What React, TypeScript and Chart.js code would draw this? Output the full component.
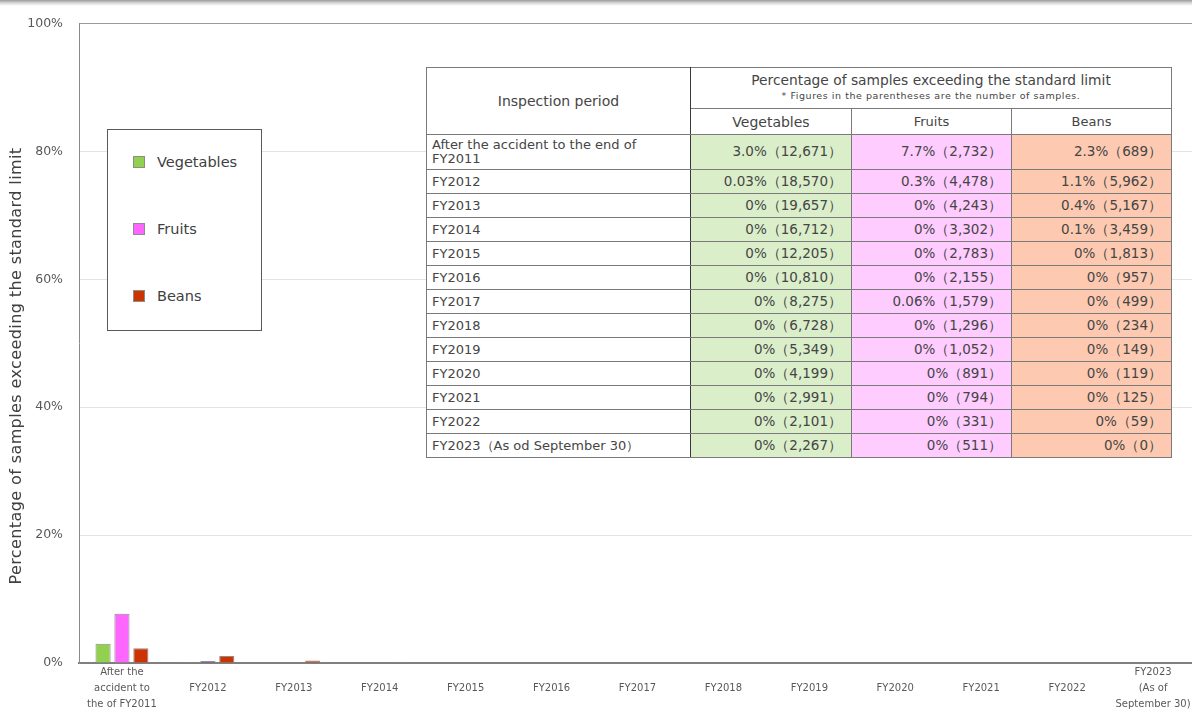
import React, { useEffect, useRef } from "react";
import { Chart, registerables } from "chart.js";

Chart.register(...registerables);

const categories: (string | string[])[] = [
  ["After the", "accident to", "the of FY2011"],
  "FY2012",
  "FY2013",
  "FY2014",
  "FY2015",
  "FY2016",
  "FY2017",
  "FY2018",
  "FY2019",
  "FY2020",
  "FY2021",
  "FY2022",
  ["FY2023", "(As of", "September 30)"],
];

const vegetables = [3.0, 0.03, 0, 0, 0, 0, 0, 0, 0, 0, 0, 0, 0];
const fruits = [7.7, 0.3, 0, 0, 0, 0, 0.06, 0, 0, 0, 0, 0, 0];
const beans = [2.3, 1.1, 0.4, 0.1, 0, 0, 0, 0, 0, 0, 0, 0, 0];

const vegetableSamples = ["12,671", "18,570", "19,657", "16,712", "12,205", "10,810", "8,275", "6,728", "5,349", "4,199", "2,991", "2,101", "2,267"];
const fruitSamples = ["2,732", "4,478", "4,243", "3,302", "2,783", "2,155", "1,579", "1,296", "1,052", "891", "794", "331", "511"];
const beanSamples = ["689", "5,962", "5,167", "3,459", "1,813", "957", "499", "234", "149", "119", "125", "59", "0"];

const tablePeriods = [
  ["After the accident to the end of", "FY2011"],
  ["FY2012"],
  ["FY2013"],
  ["FY2014"],
  ["FY2015"],
  ["FY2016"],
  ["FY2017"],
  ["FY2018"],
  ["FY2019"],
  ["FY2020"],
  ["FY2021"],
  ["FY2022"],
  ["FY2023（As od September 30）"],
];

const seriesNames = ["Vegetables", "Fruits", "Beans"];
const seriesColors = ["#92D050", "#FF66FF", "#CC3300"];
const fruitPointColors = ["#FF66FF", "#7030A0", "#FF66FF", "#FF66FF", "#FF66FF", "#FF66FF", "#FF66FF", "#FF66FF", "#FF66FF", "#FF66FF", "#FF66FF", "#FF66FF", "#FF66FF"];
const cellColors = ["#DAEECA", "#FFCCFF", "#FDCAB1"];

const yTicks = [0, 20, 40, 60, 80, 100];
const yTitle = "Percentage of samples exceeding the standard limit";
const tableTitle = "Percentage of samples exceeding the standard limit";
const tableNote = "* Figures in the parentheses are the number of samples.";
const periodHeader = "Inspection period";

const FONT = "'DejaVu Sans', sans-serif";

function fmt(v: number): string {
  if (v === 0) return "0%";
  if (v < 0.1) return v.toFixed(2) + "%";
  return v.toFixed(1) + "%";
}

const yTitlePlugin = {
  id: "yTitlePlugin",
  afterDraw(chart: any) {
    const ctx = chart.ctx as CanvasRenderingContext2D;
    ctx.save();
    ctx.translate(17, 366);
    ctx.rotate(-Math.PI / 2);
    ctx.font = "16px 'DejaVu Sans', sans-serif";
    try {
      (ctx as any).letterSpacing = "0.4px";
    } catch (e) {}
    ctx.fillStyle = "#404040";
    ctx.textAlign = "center";
    ctx.textBaseline = "middle";
    ctx.fillText(yTitle, 0, 0);
    ctx.restore();
  },
};

export default function App() {
  const ref = useRef<HTMLCanvasElement | null>(null);

  useEffect(() => {
    document.body.style.margin = "0";
    const ctx = ref.current!.getContext("2d")!;
    const chart = new Chart(ctx, {
      type: "bar",
      data: {
        labels: categories as any,
        datasets: [
          {
            label: seriesNames[0],
            data: vegetables,
            backgroundColor: seriesColors[0],
            borderColor: "#8c8c8c",
            borderWidth: 1,
          },
          {
            label: seriesNames[1],
            data: fruits,
            backgroundColor: fruitPointColors,
            borderColor: "#8c8c8c",
            borderWidth: 1,
          },
          {
            label: seriesNames[2],
            data: beans,
            backgroundColor: seriesColors[2],
            borderColor: "#8c8c8c",
            borderWidth: 1,
          },
        ],
      },
      plugins: [yTitlePlugin],
      options: {
        responsive: false,
        animation: false,
        layout: { padding: { top: 19, right: 4, left: 0, bottom: 0 } },
        datasets: { bar: { categoryPercentage: 0.66, barPercentage: 0.8 } },
        plugins: { legend: { display: false }, tooltip: { enabled: false } },
        scales: {
          x: {
            grid: { display: false, drawTicks: false },
            border: { color: "#7f7f7f", width: 2 },
            ticks: {
              autoSkip: false,
              maxRotation: 0,
              minRotation: 0,
              padding: 1,
              color: "#595959",
              font: { family: FONT, size: 10, lineHeight: 1.6 },
              callback: (_v: any, i: number) => {
                const l = categories[i];
                return Array.isArray(l) ? l : ["", l, ""];
              },
            },
            afterFit: (s: any) => {
              s.height = 50;
            },
          },
          y: {
            min: 0,
            max: 100,
            afterBuildTicks: (s: any) => {
              s.ticks = yTicks.map((v) => ({ value: v }));
            },
            ticks: {
              padding: 16,
              color: "#595959",
              font: { family: FONT, size: 12.5 },
              callback: (v: any) => v + "%",
            },
            grid: {
              drawTicks: false,
              color: (c: any) => (c.tick && c.tick.value === 100 ? "#9a9a9a" : "#e3e3e3"),
              lineWidth: 1,
            },
            border: { color: "#8a8a8a", width: 1 },
            title: { display: false },
            afterFit: (s: any) => {
              s.width = 79;
            },
          },
        },
      },
    });
    return () => chart.destroy();
  }, []);

  const border = "1px solid #7a7a7a";
  const cellBase: React.CSSProperties = {
    border,
    padding: "0 6px",
    fontSize: 13.5,
    color: "#454545",
    whiteSpace: "nowrap",
  };
  const series = [
    { vals: vegetables, samples: vegetableSamples },
    { vals: fruits, samples: fruitSamples },
    { vals: beans, samples: beanSamples },
  ];

  return (
    <div
      style={{
        position: "fixed",
        left: 0,
        top: 0,
        width: 1192,
        height: 713,
        overflow: "hidden",
        background: "#fff",
        fontFamily: FONT,
      }}
    >
      <canvas ref={ref} width={1200} height={713} style={{ position: "absolute", left: 0, top: 0 }} />
      <div
        style={{
          position: "absolute",
          left: 0,
          top: 0,
          width: 1192,
          height: 6,
          background: "linear-gradient(#9a9a9a, #d8d8d8 50%, #ffffff)",
        }}
      />
      {/* Legend */}
      <div
        style={{
          position: "absolute",
          left: 107,
          top: 129,
          width: 153,
          height: 200,
          border: "1.5px solid #5a5a5a",
          background: "#fff",
        }}
      >
        {seriesNames.map((n, i) => (
          <div
            key={n}
            style={{ position: "absolute", left: 25, top: 24 + i * 67, display: "flex", alignItems: "center" }}
          >
            <span
              style={{
                display: "inline-block",
                width: 10,
                height: 10,
                background: seriesColors[i],
                border: "1px solid #8c8c8c",
                marginRight: 12,
              }}
            />
            <span style={{ fontSize: 14.5, color: "#404040" }}>{n}</span>
          </div>
        ))}
      </div>
      {/* Table */}
      <table
        style={{
          position: "absolute",
          left: 426,
          top: 67,
          width: 745,
          borderCollapse: "collapse",
          border: "1.5px solid #3a3a3a",
          tableLayout: "fixed",
          background: "#fff",
          fontFamily: FONT,
        }}
      >
        <colgroup>
          <col style={{ width: 264 }} />
          <col style={{ width: 161 }} />
          <col style={{ width: 160 }} />
          <col style={{ width: 160 }} />
        </colgroup>
        <tbody>
          <tr style={{ height: 41 }}>
            <td rowSpan={2} style={{ ...cellBase, fontSize: 14, textAlign: "center", borderRight: "1.5px solid #3a3a3a" }}>
              {periodHeader}
            </td>
            <td colSpan={3} style={{ ...cellBase, textAlign: "center", lineHeight: "16px" }}>
              <div style={{ fontSize: 13.8 }}>{tableTitle}</div>
              <div style={{ fontSize: 9.5, letterSpacing: 0.55 }}>{tableNote}</div>
            </td>
          </tr>
          <tr style={{ height: 26, borderBottom: "1.5px solid #3a3a3a" }}>
            {seriesNames.map((n) => (
              <td key={n} style={{ ...cellBase, textAlign: "center", fontSize: n === "Vegetables" ? 14 : 13 }}>
                {n}
              </td>
            ))}
          </tr>
          {tablePeriods.map((p, r) => (
            <tr key={r} style={{ height: r === 0 ? 35 : 24 }}>
              <td style={{ ...cellBase, lineHeight: "14px", fontSize: 13, padding: "0 5px", borderRight: "1.5px solid #3a3a3a" }}>
                {p.map((line, k) => (
                  <div key={k}>{line}</div>
                ))}
              </td>
              {series.map((s, c) => (
                <td key={c} style={{ ...cellBase, textAlign: "right", background: cellColors[c], padding: "0 9px" }}>
                  {fmt(s.vals[r])}（{s.samples[r]}）
                </td>
              ))}
            </tr>
          ))}
        </tbody>
      </table>
    </div>
  );
}
